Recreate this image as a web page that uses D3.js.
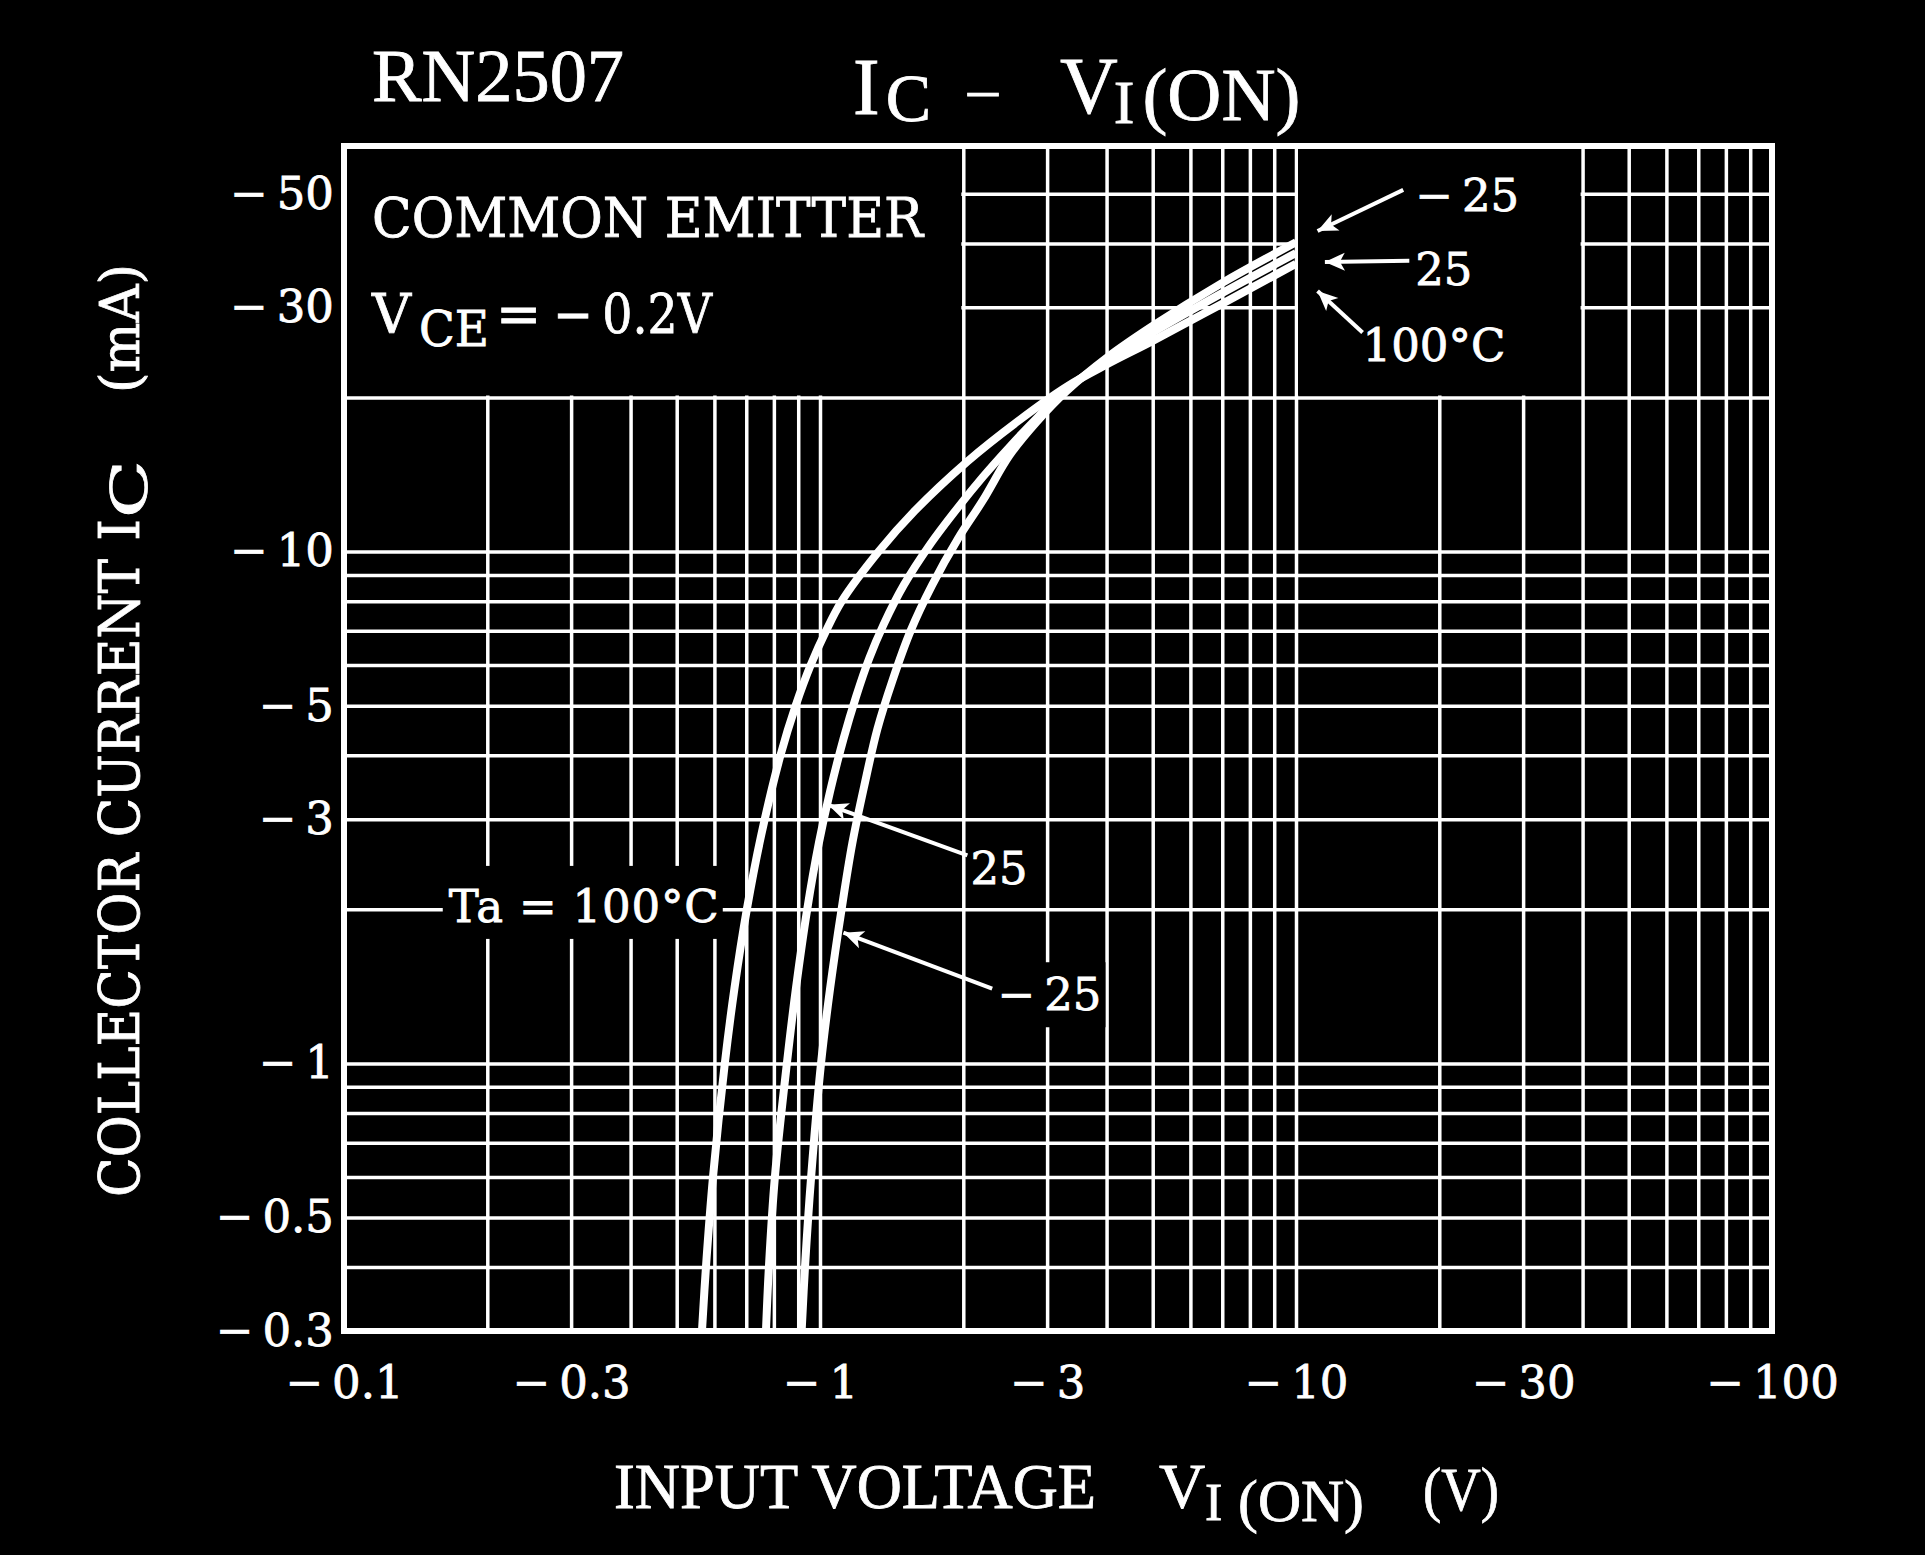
<!DOCTYPE html>
<html>
<head>
<meta charset="utf-8">
<script src="https://cdn.jsdelivr.net/npm/d3@7"></script>
<style>
  body { margin: 0; background: #000; }
  svg text { stroke: #fff; stroke-width: 0.8px; }
</style>
</head>
<body>
<div id="chart"></div>
<script>
const svgWidth = 1925;
const svgHeight = 1555;

const margin = {
  top: 146,
  right: 153,
  bottom: 224,
  left: 344
};

const width = svgWidth - margin.left - margin.right;
const height = svgHeight - margin.top - margin.bottom;

// datasheet values are negative (PNP), plotted as magnitudes on log axes
const xTicks = [0.1, 0.3, 1, 3, 10, 30, 100];
const xTickLabels = ["−\u20090.1", "−\u20090.3", "−\u20091", "−\u20093", "−\u200910", "−\u200930", "−\u2009100"];
const yTicks = [0.3, 0.5, 1, 3, 5, 10, 30, 50];
const yTickLabels = ["−\u20090.3", "−\u20090.5", "−\u20091", "−\u20093", "−\u20095", "−\u200910", "−\u200930", "−\u200950"];

const xGrid = [0.2, 0.3, 0.4, 0.5, 0.6, 0.7, 0.8, 0.9, 1, 2, 3, 4, 5, 6, 7, 8, 9, 10, 20, 30, 40, 50, 60, 70, 80, 90];
const yGrid = [0.4, 0.5, 0.6, 0.7, 0.8, 0.9, 1, 2, 3, 4, 5, 6, 7, 8, 9, 10, 20, 30, 40, 50];

// [VI(on) V, IC mA]
const ta100 = [[0.565, 0.3], [0.576, 0.4], [0.596, 0.6], [0.631, 1.0], [0.661, 1.4], [0.702, 2.0],
  [0.753, 2.8], [0.826, 4.0], [0.889, 5.0], [0.956, 6.0], [1.03, 7.0], [1.111, 8.0], [1.328, 10],
  [1.58, 12], [2.04, 15], [2.61, 18], [3.3, 21.0], [4.0, 23.2], [5.0, 25.8], [7.0, 30.5], [10, 36.5]];
const ta25 = [[0.77, 0.3], [0.781, 0.4], [0.804, 0.6], [0.852, 1.0], [0.89, 1.4], [0.94, 2.0],
  [0.995, 2.7], [1.05, 3.4], [1.12, 4.3], [1.19, 5.2], [1.27, 6.2], [1.36, 7.2], [1.5, 8.6],
  [1.7, 10.3], [1.95, 12.2], [2.2, 14.0], [2.5, 16.0], [2.85, 18.2], [3.3, 20.8], [4.0, 23.6],
  [5.0, 26.8], [7.0, 32.0], [10, 38.3]];
const taM25 = [[0.915, 0.3], [0.93, 0.4], [0.958, 0.6], [1.005, 1.0], [1.05, 1.4], [1.11, 2.0],
  [1.17, 2.7], [1.24, 3.5], [1.32, 4.5], [1.42, 5.6], [1.55, 7.0], [1.72, 8.6], [1.95, 10.6],
  [2.2, 12.6], [2.5, 15.4], [2.85, 17.9], [3.3, 20.6], [4.0, 23.9], [5.0, 27.6], [7.0, 33.5], [10, 40.2]];

// curve labels with arrows (data coords)
const arrowLabels = ["25", "−\u200925", "−\u200925", "25", "100°C"];
const arrowText = [[2.07, 2.24], [2.36, 1.27], [17.8, 46.3], [17.8, 33.2], [13.8, 23.6]];
const arrowTail = [[2.04, 2.55], [2.3, 1.4], [16.8, 50.9], [17.3, 37.0], [13.8, 26.8]];
const arrowTip = [[1.04, 3.2], [1.12, 1.8], [11.1, 42.3], [11.5, 36.8], [11.1, 32.3]];

// black boxes without grid (V from-to), from top of plot down to 20 mA
const insetBoxes = [[0.1, 2], [10, 40]];
const insetBottom = 20;

const serif = "DejaVu Serif";
const times = "Liberation Serif";

const svg = d3
  .select("#chart")
  .append("svg")
  .attr("width", svgWidth)
  .attr("height", svgHeight);

svg.append("rect")
  .attr("width", svgWidth)
  .attr("height", svgHeight)
  .attr("fill", "#000");

const chartGroup = svg.append("g")
  .attr("transform", `translate(${margin.left}, ${margin.top})`);

const xScale = d3.scaleLog().domain([0.1, 100]).range([0, width]);
const yScale = d3.scaleLog().domain([0.3, 62]).range([height, 0]);

// grid lines
chartGroup.append("g")
  .classed("grid", true)
  .attr("transform", `translate(0, ${height})`)
  .call(d3.axisBottom(xScale).tickValues(xGrid).tickSize(-height).tickFormat(""));

chartGroup.append("g")
  .classed("grid", true)
  .call(d3.axisLeft(yScale).tickValues(yGrid).tickSize(-width).tickFormat(""));

chartGroup.selectAll(".grid .domain").remove();
chartGroup.selectAll(".grid line")
  .attr("stroke", "#fff")
  .attr("stroke-width", 3.5);

chartGroup.selectAll("rect.inset")
  .data(insetBoxes)
  .enter()
  .append("rect")
  .classed("inset", true)
  .attr("x", d => xScale(d[0]) + 2)
  .attr("y", 0)
  .attr("width", d => xScale(d[1]) - xScale(d[0]) - 4)
  .attr("height", yScale(insetBottom) - 2)
  .attr("fill", "#000");

// frame
chartGroup.append("rect")
  .attr("width", width)
  .attr("height", height)
  .attr("fill", "none")
  .attr("stroke", "#fff")
  .attr("stroke-width", 6);

// tick labels
const bottomAxis = d3.axisBottom(xScale)
  .tickValues(xTicks)
  .tickFormat((d, i) => xTickLabels[i])
  .tickSize(0)
  .tickPadding(35);

const leftAxis = d3.axisLeft(yScale)
  .tickValues(yTicks)
  .tickFormat((d, i) => yTickLabels[i])
  .tickSize(0)
  .tickPadding(10);

const xAxis = chartGroup.append("g")
  .attr("transform", `translate(0, ${height})`)
  .call(bottomAxis);

const yAxis = chartGroup.append("g")
  .call(leftAxis);

[xAxis, yAxis].forEach(g => {
  g.select(".domain").remove();
  g.selectAll("text")
    .attr("font-family", serif)
    .attr("font-size", 45)
    .attr("fill", "#fff");
});

// curves
const line = d3.line()
  .x(d => xScale(d[0]))
  .y(d => yScale(d[1]))
  .curve(d3.curveCatmullRom.alpha(0.5));

chartGroup.selectAll("path.curve")
  .data([ta100, ta25, taM25])
  .enter()
  .append("path")
  .classed("curve", true)
  .attr("d", line)
  .attr("fill", "none")
  .attr("stroke", "#fff")
  .attr("stroke-width", 8);

// Ta = 100°C label sitting on the 2 mA grid line
const taLabel = chartGroup.append("g");
const taText = taLabel.append("text")
  .attr("x", xScale(0.166))
  .attr("y", yScale(2))
  .attr("dy", "0.28em")
  .attr("font-family", serif)
  .attr("font-size", 45)
  .attr("textLength", 270)
  .attr("lengthAdjust", "spacing")
  .attr("fill", "#fff")
  .text("Ta = 100°C");
const tb = taText.node().getBBox();
taLabel.insert("rect", "text")
  .attr("x", tb.x - 6)
  .attr("y", tb.y - 14)
  .attr("width", tb.width + 10)
  .attr("height", tb.height + 20)
  .attr("fill", "#000");

// arrows
const defs = svg.append("defs");
defs.append("marker")
  .attr("id", "head")
  .attr("viewBox", "0 0 10 10")
  .attr("refX", 10)
  .attr("refY", 5)
  .attr("markerWidth", 38)
  .attr("markerHeight", 20)
  .attr("markerUnits", "userSpaceOnUse")
  .attr("orient", "auto")
  .append("path")
  .attr("d", "M0,0.5 L10,5 L0,9.5 L2.5,5 Z")
  .attr("fill", "#fff");

arrowLabels.forEach((label, i) => {
  const g = chartGroup.append("g");
  const t = g.append("text")
    .attr("x", xScale(arrowText[i][0]))
    .attr("y", yScale(arrowText[i][1]))
    .attr("font-family", serif)
    .attr("font-size", 45)
    .attr("fill", "#fff")
    .text(label);
  if (i < 2) {
    const b = t.node().getBBox();
    g.insert("rect", "text")
      .attr("x", b.x - 4)
      .attr("y", b.y - 6)
      .attr("width", b.width + 8)
      .attr("height", b.height + 12)
      .attr("fill", "#000");
  }
  g.append("line")
    .attr("x1", xScale(arrowTail[i][0]))
    .attr("y1", yScale(arrowTail[i][1]))
    .attr("x2", xScale(arrowTip[i][0]))
    .attr("y2", yScale(arrowTip[i][1]))
    .attr("stroke", "#fff")
    .attr("stroke-width", 4)
    .attr("marker-end", "url(#head)");
});

// inset text
svg.append("text")
  .attr("x", 372)
  .attr("y", 237)
  .attr("font-family", serif)
  .attr("font-size", 54)
  .attr("textLength", 551)
  .attr("lengthAdjust", "spacingAndGlyphs")
  .attr("fill", "#fff")
  .text("COMMON EMITTER");

const vce = svg.append("text")
  .attr("font-family", serif)
  .attr("fill", "#fff");
vce.append("tspan").attr("x", 372).attr("y", 333).attr("font-size", 54).text("V");
vce.append("tspan").attr("x", 419).attr("y", 346).attr("font-size", 48)
  .attr("textLength", 70).attr("lengthAdjust", "spacingAndGlyphs").text("CE");
vce.append("tspan").attr("x", 496).attr("y", 333).attr("font-size", 54).text("=");
vce.append("tspan").attr("x", 553).attr("y", 333).attr("font-size", 54)
  .attr("textLength", 159).attr("lengthAdjust", "spacingAndGlyphs").text("−\u20090.2V");

// title
svg.append("text")
  .attr("x", 372)
  .attr("y", 101)
  .attr("font-family", times)
  .attr("font-size", 74)
  .attr("textLength", 252)
  .attr("lengthAdjust", "spacingAndGlyphs")
  .attr("fill", "#fff")
  .text("RN2507");

// IC – VI(ON) as one flowing text with subscripts
const title = svg.append("text")
  .attr("x", 853)
  .attr("y", 114)
  .attr("font-family", times)
  .attr("font-size", 80)
  .attr("fill", "#fff");
title.append("tspan").text("I");
title.append("tspan").attr("dx", 6).attr("dy", 7).attr("font-size", 68).text("C");
title.append("tspan").attr("dx", 37).attr("dy", -13).attr("font-size", 60).text("–");
title.append("tspan").attr("dx", 62).attr("dy", 5).text("V");
title.append("tspan").attr("dx", -4).attr("dy", 10).attr("font-size", 62).text("I");
title.append("tspan").attr("dx", 8).attr("dy", -3).attr("font-size", 74)
  .attr("textLength", 158).attr("lengthAdjust", "spacingAndGlyphs").text("(ON)");

// x axis title
const xTitle = svg.append("text")
  .attr("font-family", times)
  .attr("fill", "#fff");
xTitle.append("tspan").attr("x", 614).attr("y", 1508).attr("font-size", 64)
  .attr("textLength", 482).attr("lengthAdjust", "spacingAndGlyphs").text("INPUT VOLTAGE");
xTitle.append("tspan").attr("x", 1159).attr("y", 1508).attr("font-size", 64).text("V");
xTitle.append("tspan").attr("x", 1205).attr("y", 1520).attr("font-size", 52).text("I");
xTitle.append("tspan").attr("x", 1238).attr("y", 1521).attr("font-size", 60)
  .attr("textLength", 126).attr("lengthAdjust", "spacingAndGlyphs").text("(ON)");
xTitle.append("tspan").attr("x", 1423).attr("y", 1510).attr("font-size", 62)
  .attr("textLength", 76).attr("lengthAdjust", "spacingAndGlyphs").text("(V)");

// y axis title, rotated
const yTitle = svg.append("text")
  .attr("transform", "translate(139, 0) rotate(-90)")
  .attr("font-family", serif)
  .attr("fill", "#fff");
yTitle.append("tspan").attr("x", -1197).attr("y", 0).attr("font-size", 56)
  .attr("textLength", 638).attr("lengthAdjust", "spacingAndGlyphs").text("COLLECTOR CURRENT");
yTitle.append("tspan").attr("x", -541).attr("y", 0).attr("font-size", 56).text("I");
yTitle.append("tspan").attr("x", -518).attr("y", 8).attr("font-size", 50)
  .attr("textLength", 58).attr("lengthAdjust", "spacingAndGlyphs").text("C");
yTitle.append("tspan").attr("x", -393).attr("y", 0).attr("font-size", 54)
  .attr("textLength", 129).attr("lengthAdjust", "spacingAndGlyphs").text("(mA)");
</script>
</body>
</html>
